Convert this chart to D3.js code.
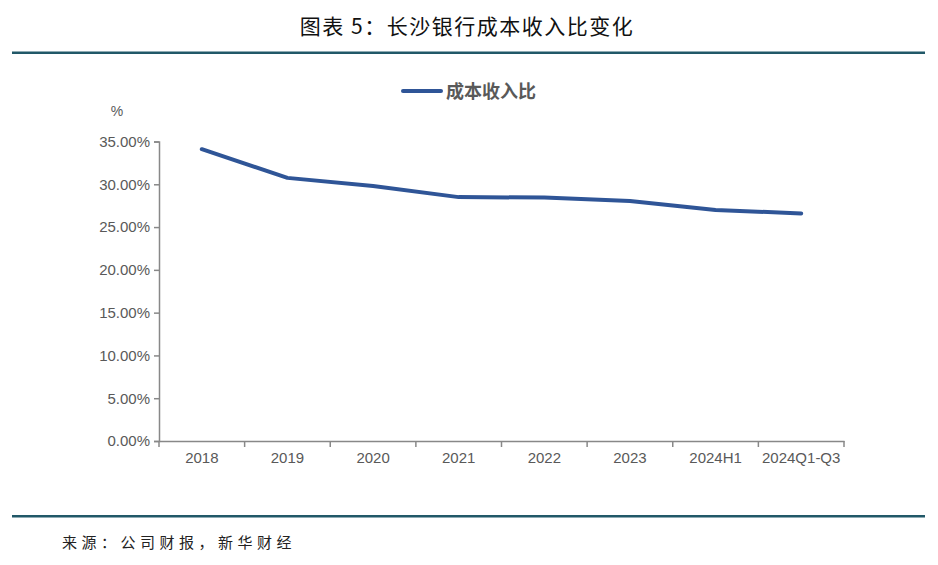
<!DOCTYPE html>
<html>
<head>
<meta charset="utf-8">
<script src="https://cdn.jsdelivr.net/npm/d3@7"></script>
<style>
  body { margin: 0; background: #fff; }
  svg { display: block; }
</style>
</head>
<body>
<div id="chart"></div>
<script>
// data
var categories = ["2018", "2019", "2020", "2021", "2022", "2023", "2024H1", "2024Q1-Q3"];
var costIncome = [34.1, 30.75, 29.8, 28.5, 28.45, 28.05, 27.0, 26.6];
var yTicks = [0, 5, 10, 15, 20, 25, 30, 35];

var width = 938,
    height = 565;

var svg = d3.select("#chart").append("svg")
    .attr("width", width)
    .attr("height", height);

var cjk = "'Noto Sans CJK SC', 'Noto Sans', sans-serif";
var latin = "'Liberation Sans', Arial, sans-serif";

// title + rules
svg.append("text")
    .attr("x", 467).attr("y", 34)
    .attr("text-anchor", "middle")
    .style("font-family", cjk)
    .style("font-size", "21px")
    .style("letter-spacing", "1.5px")
    .attr("fill", "#111")
    .text("图表 5：长沙银行成本收入比变化");

svg.append("rect").attr("x", 12).attr("y", 51.5).attr("width", 913).attr("height", 2.5).attr("fill", "#215868");
svg.append("rect").attr("x", 12).attr("y", 515).attr("width", 913).attr("height", 2.5).attr("fill", "#215868");

svg.append("text")
    .attr("x", 62).attr("y", 548)
    .style("font-family", cjk)
    .style("font-size", "15px")
    .style("letter-spacing", "4.5px")
    .attr("fill", "#222")
    .text("来源：公司财报，新华财经");

// scales
var x = d3.scaleBand().domain(categories).range([159, 844]);
var y = d3.scaleLinear().domain([0, 35]).range([441, 141.5]);

// y axis
var yAxis = svg.append("g")
    .attr("transform", "translate(159,0)")
    .call(d3.axisLeft(y).tickValues(yTicks).tickSize(5).tickPadding(4)
        .tickFormat(function(d){ return d.toFixed(2) + "%"; }));
yAxis.select(".domain").attr("stroke", "#888").attr("stroke-width", 1.5);
yAxis.selectAll(".tick line").attr("stroke", "#888").attr("stroke-width", 1.5);
yAxis.selectAll(".tick text")
    .style("font-family", latin).style("font-size", "15px").attr("fill", "#595959");

// x axis
var xAxis = svg.append("g")
    .attr("transform", "translate(0,441)")
    .call(d3.axisBottom(x).tickSize(0).tickPadding(11));
xAxis.select(".domain").attr("stroke", "#888").attr("stroke-width", 1.5);
xAxis.selectAll(".tick text")
    .style("font-family", latin).style("font-size", "15px").attr("fill", "#595959");

// tick marks on band boundaries
var bounds = categories.map(function(c){ return x(c); }).concat([x.range()[1]]);
xAxis.selectAll(".bound")
    .data(bounds)
    .enter().append("line")
    .attr("class", "bound")
    .attr("x1", function(d){ return d; }).attr("x2", function(d){ return d; })
    .attr("y1", 0).attr("y2", 6)
    .attr("stroke", "#888").attr("stroke-width", 1.5);

svg.append("text")
    .attr("x", 117).attr("y", 116)
    .attr("text-anchor", "middle")
    .style("font-family", latin).style("font-size", "14px")
    .attr("fill", "#595959")
    .text("%");

// line
var line = d3.line()
    .x(function(d, i){ return x(categories[i]) + x.bandwidth() / 2; })
    .y(function(d){ return y(d); });

svg.append("path")
    .datum(costIncome)
    .attr("fill", "none")
    .attr("stroke", "#2f5597")
    .attr("stroke-width", 4)
    .attr("stroke-linecap", "round")
    .attr("stroke-linejoin", "round")
    .attr("d", line);

// legend
svg.append("line")
    .attr("x1", 403).attr("x2", 441).attr("y1", 91).attr("y2", 91)
    .attr("stroke", "#2f5597").attr("stroke-width", 4).attr("stroke-linecap", "round");
svg.append("text")
    .attr("x", 446).attr("y", 97.5)
    .style("font-family", cjk).style("font-size", "18px").style("font-weight", "bold")
    .attr("fill", "#595959")
    .text("成本收入比");
</script>
</body>
</html>
